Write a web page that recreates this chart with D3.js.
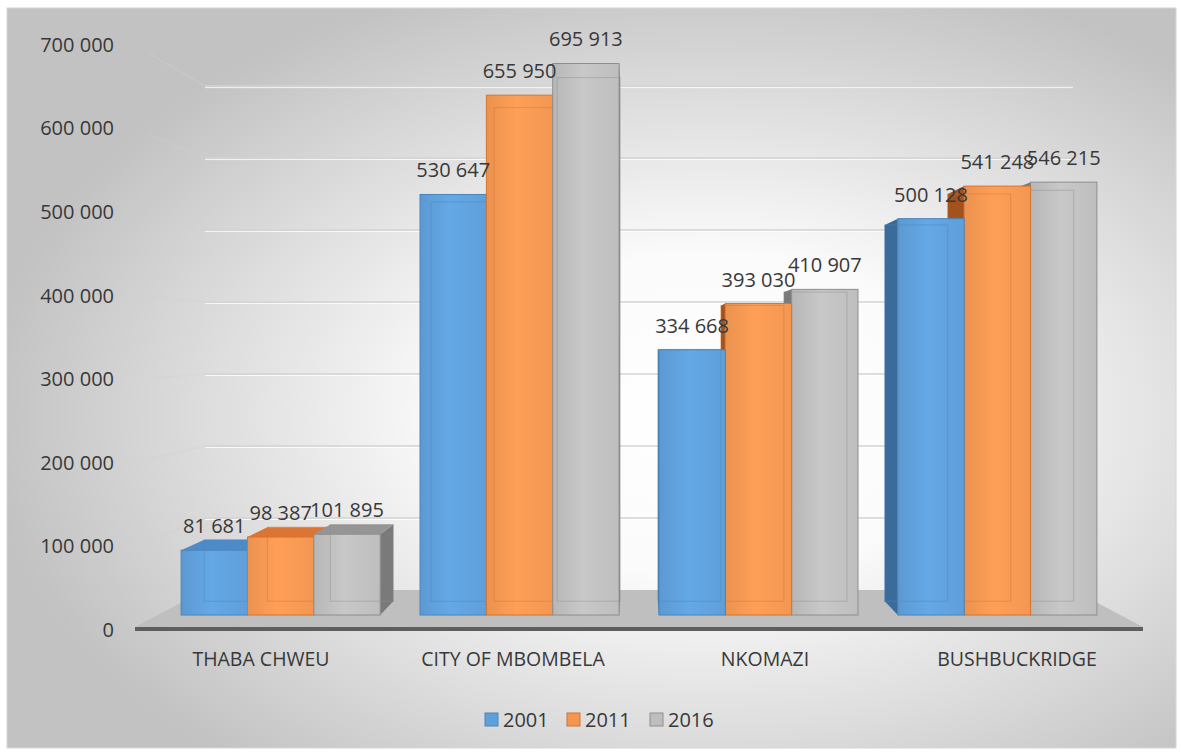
<!DOCTYPE html>
<html><head><meta charset="utf-8">
<script src="https://cdn.jsdelivr.net/npm/d3@7"></script>
<style>body{margin:0;background:#fff;} svg{display:block;font-family:"Open Sans",sans-serif;}</style>
</head><body><svg id="c" width="1181" height="753"></svg>
<script>
// ---- data ----
const categories = ["THABA CHWEU", "CITY OF MBOMBELA", "NKOMAZI", "BUSHBUCKRIDGE"];
const seriesNames = ["2001", "2011", "2016"];
const values2001 = [81681, 530647, 334668, 500128];
const values2011 = [98387, 655950, 393030, 541248];
const values2016 = [101895, 695913, 410907, 546215];
const yTicks = [0, 100000, 200000, 300000, 400000, 500000, 600000, 700000];

// ---- styles ----
const frontCol = ["#5f9fda", "#f29752", "#bebebe"];
const topCol = ["#4d8bc8", "#dc7433", "#959595"];
const sideCol = ["#3a6c9b", "#a4521d", "#7a7a7a"];
const edgeCol = ["#4a84bb", "#d8732f", "#8e8e8e"];
const textCol = "#383838";

const seriesValues = [values2001, values2011, values2016];
const svg = d3.select("#c");
const fmt = d3.formatLocale({decimal: ".", thousands: " ", grouping: [3], currency: ["", ""]}).format(",d");

// perspective setup (front-plane coordinates -> screen)
const VX = 639, VY = 342, kFront = 0.948, kBack = 0.90, kWall = 0.861;
const P = (x, y, k) => [VX + (x - VX) * k, VY + (y - VY) * k];

const x0 = d3.scaleBand().domain(categories).range([135, 1143]);
const x1 = d3.scaleBand().domain(seriesNames).range([21, 231]);
const y = d3.scaleLinear().domain([0, 700000]).range([630, 44.8]);

const defs = svg.append("defs");
const bg = defs.append("radialGradient").attr("id", "bg").attr("cx", "60%").attr("cy", "55%").attr("r", "62%");
bg.append("stop").attr("offset", "0%").attr("stop-color", "#ffffff");
bg.append("stop").attr("offset", "35%").attr("stop-color", "#fbfbfb");
bg.append("stop").attr("offset", "100%").attr("stop-color", "#c2c2c2");

frontCol.forEach((c, j) => {
  const g = defs.append("linearGradient").attr("id", "fg" + j).attr("x1", "0").attr("x2", "1").attr("y1", "0").attr("y2", "0");
  g.append("stop").attr("offset", "0%").attr("stop-color", d3.color(c).darker(0.1));
  g.append("stop").attr("offset", "45%").attr("stop-color", d3.color(c).brighter(0.15));
  g.append("stop").attr("offset", "100%").attr("stop-color", c);
});

svg.append("rect").attr("x", 7).attr("y", 8).attr("width", 1169).attr("height", 740)
  .attr("fill", "url(#bg)").attr("stroke", "#d6d6d6");

const line = d3.line();

// gridlines: back wall + left side wall
yTicks.forEach(t => {
  if (t === 0) return;
  const fy = y(t);
  const a = P(135, fy, 1), b = P(135, fy, kWall), c = P(1143, fy, kWall);
  const am = [a[0] + (b[0] - a[0]) * 0.2, a[1] + (b[1] - a[1]) * 0.2];
  svg.append("path").attr("d", line([am, b])).attr("stroke", "#d2d2d2").attr("stroke-width", 1.5).attr("fill", "none").attr("opacity", 0.35);
  svg.append("path").attr("d", line([b, c])).attr("stroke", "#d3d3d3").attr("stroke-width", 1.5).attr("fill", "none");
  svg.append("path").attr("d", line([[b[0], b[1] + 1.5], [c[0], c[1] + 1.5]])).attr("stroke", "#ffffff").attr("stroke-width", 1).attr("fill", "none").attr("opacity", 0.8);
});

// floor
const fl = [P(135, 630, 1), P(1143, 630, 1), P(1143, 630, kWall), P(135, 630, kWall)];
fl[0][1] -= 3; fl[1][1] -= 3;
svg.append("path").attr("d", line(fl) + "Z").attr("fill", "#bfbfbf");
svg.append("rect").attr("x", 135).attr("y", 627).attr("width", 1008).attr("height", 4).attr("fill", "#5e5e5e");

// bars
const bars = [];
categories.forEach((cat, i) => {
  seriesNames.forEach((s, j) => {
    const xa = x0(cat) + x1(s), xb = xa + x1.bandwidth();
    bars.push({i, j, v: seriesValues[j][i], xa, xb, cx: (xa + xb) / 2});
  });
});
bars.sort((a, b) => Math.abs(b.cx - VX) - Math.abs(a.cx - VX));

const gBars = svg.append("g");
bars.forEach(d => {
  const yt = y(d.v), yb = y(0);
  const g = gBars.append("g");
  const sx = d.cx < VX ? d.xb : d.xa;
  g.append("path").attr("d", line([P(sx, yt, kFront), P(sx, yt, kBack), P(sx, yb, kBack), P(sx, yb, kFront)]) + "Z")
    .attr("fill", sideCol[d.j]);
  if (yt > VY) {
    g.append("path").attr("d", line([P(d.xa, yt, kFront), P(d.xb, yt, kFront), P(d.xb, yt, kBack), P(d.xa, yt, kBack)]) + "Z")
      .attr("fill", topCol[d.j]);
  }
  const f0 = P(d.xa, yt, kFront), f1 = P(d.xb, yb, kFront);
  g.append("rect").attr("x", f0[0]).attr("y", f0[1]).attr("width", f1[0] - f0[0]).attr("height", f1[1] - f0[1])
    .attr("fill", "url(#fg" + d.j + ")").attr("stroke", edgeCol[d.j]).attr("stroke-width", 1);
  const b0 = P(d.xa, yt, kBack), b1 = P(d.xb, yb, kBack);
  g.append("rect").attr("x", b0[0]).attr("y", b0[1]).attr("width", b1[0] - b0[0]).attr("height", b1[1] - b0[1])
    .attr("fill", "none").attr("stroke", edgeCol[d.j]).attr("stroke-width", 1).attr("opacity", 0.45);
});

// data labels
bars.forEach(d => {
  const ft = P(d.cx, y(d.v), kFront);
  svg.append("text").attr("x", ft[0]).attr("y", ft[1] - 24).attr("dy", "0.35em")
    .attr("text-anchor", "middle").attr("font-size", 20).attr("fill", textCol).text(fmt(d.v));
});

// y axis labels
svg.append("g").selectAll("text").data(yTicks).join("text")
  .attr("x", 114).attr("y", d => y(d)).attr("dy", "0.35em").attr("text-anchor", "end")
  .attr("font-size", 20).attr("fill", textCol).text(d => fmt(d));

// category labels
svg.append("g").selectAll("text").data(categories).join("text")
  .attr("x", d => x0(d) + x0.bandwidth() / 2).attr("y", 659).attr("dy", "0.35em").attr("text-anchor", "middle")
  .attr("font-size", 19.5).attr("fill", textCol).text(d => d);

// legend
const legX = [485, 567, 650];
const lg = svg.append("g").selectAll("g").data(seriesNames).join("g")
  .attr("transform", (d, j) => `translate(${legX[j]},713)`);
lg.append("rect").attr("width", 13).attr("height", 13).attr("fill", (d, j) => frontCol[j]).attr("stroke", (d, j) => edgeCol[j]);
lg.append("text").attr("x", 18).attr("y", 6.5).attr("dy", "0.35em").attr("font-size", 20).attr("fill", textCol).text(d => d);
</script>
</body></html>
